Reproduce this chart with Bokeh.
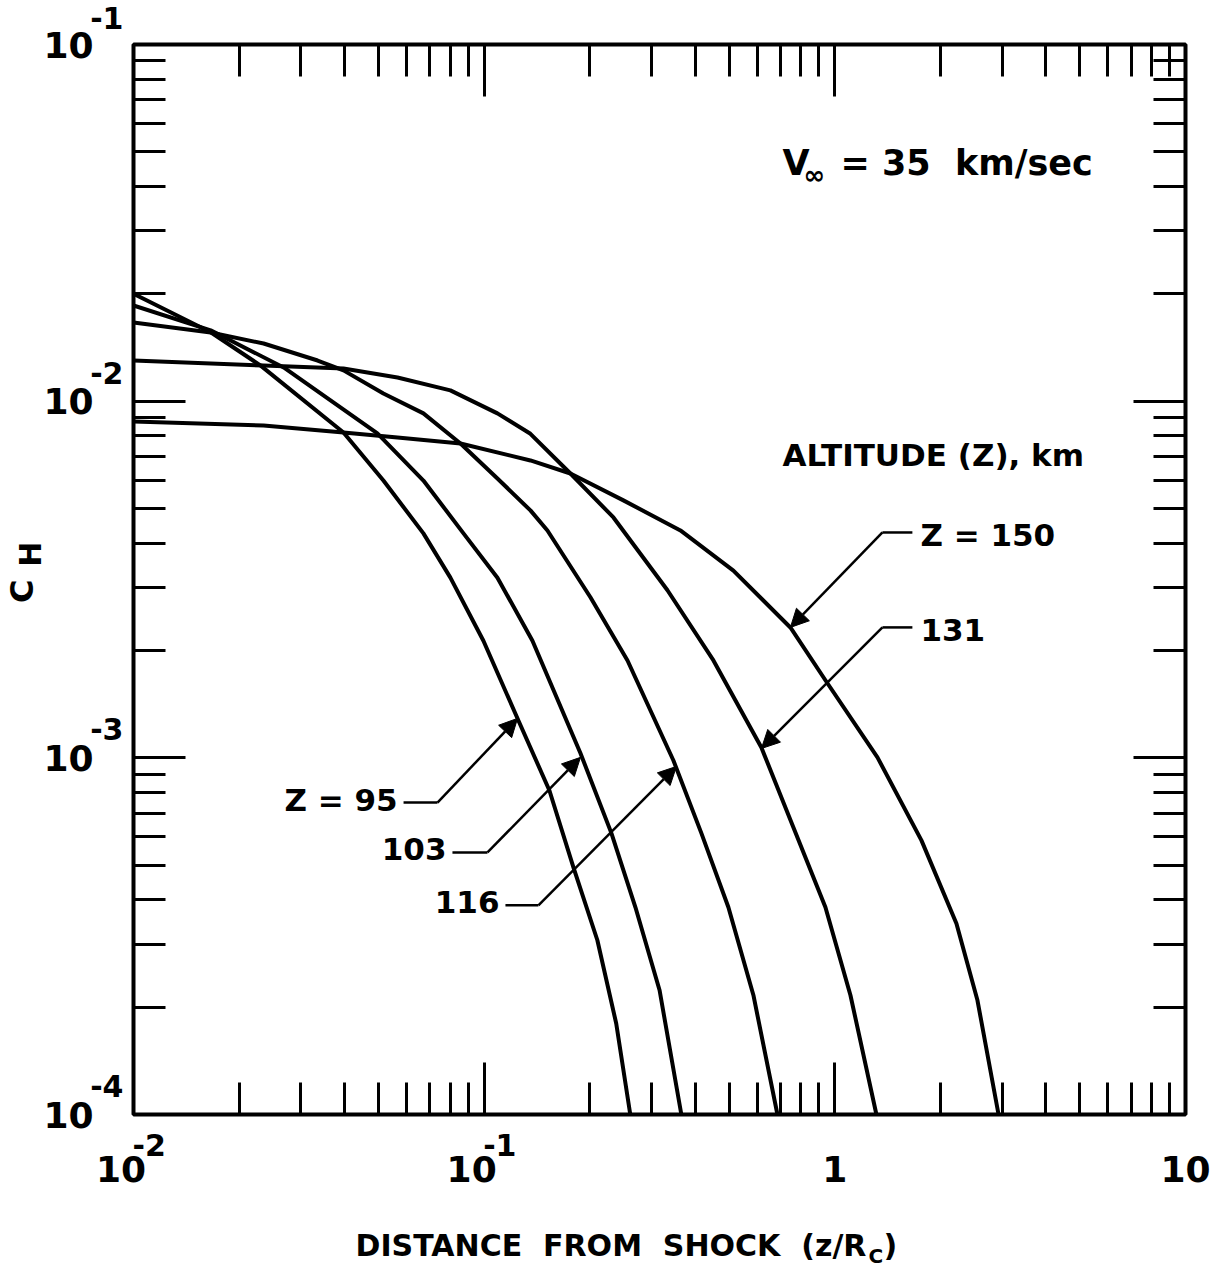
from bokeh.plotting import figure
from bokeh.models import Range1d, LogAxis, FixedTicker, Label, Arrow, NormalHead
from bokeh.embed import file_html
from bokeh.resources import INLINE

# Heat-transfer coefficient C_H against distance from the shock (z/Rc), V = 35 km/s,
# one curve per altitude Z (km).
dist_95 = [0.0100, 0.0166, 0.0230, 0.0397, 0.0516, 0.0671, 0.0801, 0.0995, 0.1253, 0.1535, 0.1797, 0.2103, 0.238, 0.261]
ch_95 = [0.0200, 0.0156, 0.0126, 0.00817, 0.00599, 0.00426, 0.00320, 0.00213, 0.00127, 0.00081, 0.000493, 0.000308, 0.000180, 0.0001]

dist_103 = [0.0100, 0.0166, 0.0268, 0.0496, 0.0671, 0.0873, 0.1091, 0.1373, 0.1882, 0.2307, 0.2700, 0.3164, 0.365]
ch_103 = [0.01855, 0.0158, 0.01243, 0.00812, 0.00599, 0.00426, 0.00320, 0.00213, 0.00103, 0.000614, 0.000381, 0.000223, 0.0001]

dist_116 = [0.0100, 0.0166, 0.0235, 0.0335, 0.0397, 0.0516, 0.0671, 0.0856, 0.1091, 0.1355, 0.1515, 0.2009, 0.2563, 0.3465, 0.4165, 0.4971, 0.5859, 0.686]
ch_116 = [0.01662, 0.01558, 0.01451, 0.0130, 0.0122, 0.01051, 0.00924, 0.00761, 0.00607, 0.00494, 0.00434, 0.00282, 0.001875, 0.000983, 0.000614, 0.000381, 0.000216, 0.0001]

dist_131 = [0.0100, 0.0235, 0.0397, 0.0566, 0.0801, 0.1091, 0.1355, 0.1762, 0.2337, 0.3332, 0.4506, 0.6174, 0.762, 0.9401, 1.108, 1.314]
ch_131 = [0.0130, 0.01259, 0.01235, 0.01165, 0.01072, 0.00924, 0.00810, 0.00627, 0.00472, 0.00295, 0.001875, 0.001069, 0.000638, 0.000381, 0.000216, 0.0001]

dist_150 = [0.0100, 0.0235, 0.0397, 0.0566, 0.0856, 0.1355, 0.1762, 0.2495, 0.3628, 0.5137, 0.7469, 0.9401, 1.323, 1.766, 2.222, 2.551, 2.93]
ch_150 = [0.00877, 0.00855, 0.00817, 0.00791, 0.00761, 0.00682, 0.00627, 0.00527, 0.00434, 0.00335, 0.00232, 0.00165, 0.001003, 0.000587, 0.000343, 0.000209, 0.0001]

curves = [(dist_95, ch_95), (dist_103, ch_103), (dist_116, ch_116), (dist_131, ch_131), (dist_150, ch_150)]

x_decades = [0.01, 0.1, 1.0, 10.0]
y_decades = [1e-4, 1e-3, 1e-2, 1e-1]
x_minor = [m * d for d in x_decades[:-1] for m in range(2, 10)]
y_minor = [m * d for d in y_decades[:-1] for m in range(2, 10)]

# tick labels are written as a base with a raised exponent
NB = "\u00a0"
x_base = {0.01: "10" + NB * 2, 0.1: "10" + NB * 2, 1.0: "1", 10.0: "10"}
x_exp = {0.01: NB * 3 + "-2", 0.1: NB * 3 + "-1", 1.0: NB, 10.0: NB}
y_base = {1e-1: "10", 1e-2: "10", 1e-3: "10", 1e-4: "10"}
y_exp = {1e-1: "-1\n" + NB, 1e-2: "-2\n" + NB, 1e-3: "-3\n" + NB, 1e-4: "-4\n" + NB}

# leader arrows: label, text side, text anchor (x, y), elbow (x, y), tip on the curve (x, y)
callouts = [
    ("Z = 95", "right", (0.0589, 0.000749), (0.0736, 0.000749), (0.1245, 0.00129)),
    ("103", "right", (0.0812, 0.000543), (0.1022, 0.000543), (0.1882, 0.001003)),
    ("116", "right", (0.1150, 0.000386), (0.1428, 0.000386), (0.3534, 0.000946)),
    ("Z = 150", "left", (1.664, 0.004284), (1.367, 0.004284), (0.7469, 0.002321)),
    ("131", "left", (1.664, 0.002321), (1.367, 0.002321), (0.6174, 0.001062)),
]

FONT = "DejaVu Sans"
INK = "black"

p = figure(width=1219, height=1268, x_axis_type="log", y_axis_type="log",
           x_range=Range1d(0.01, 10.0), y_range=Range1d(1e-4, 1e-1),
           output_backend="svg", toolbar_location=None,
           min_border_left=133, min_border_right=34, min_border_top=44, min_border_bottom=154)
p.background_fill_color = "white"
p.border_fill_color = "white"
p.outline_line_color = INK
p.outline_line_width = 4
p.grid.visible = False


def style(ax, ticker, ticks_on=True):
    ax.ticker = ticker
    ax.axis_line_color = None
    ax.major_tick_out = 0
    ax.minor_tick_out = 0
    ax.major_tick_in = 52 if ticks_on else 0
    ax.minor_tick_in = 32 if ticks_on else 0
    ax.major_tick_line_width = 3
    ax.minor_tick_line_width = 3
    ax.major_tick_line_color = INK if ticks_on else None
    ax.minor_tick_line_color = INK if ticks_on else None
    ax.major_label_text_font = FONT
    ax.major_label_text_font_style = "bold"
    ax.major_label_text_color = INK


x_ticker = FixedTicker(ticks=x_decades, minor_ticks=x_minor)
y_ticker = FixedTicker(ticks=y_decades, minor_ticks=y_minor)

# frame ticks on all four sides; bottom and left carry the exponents next to the frame
bottom = p.below[0]
left = p.left[0]
top = LogAxis()
right = LogAxis()
p.add_layout(top, "above")
p.add_layout(right, "right")
for ax in (bottom, top):
    style(ax, x_ticker)
for ax in (left, right):
    style(ax, y_ticker)
for ax in (top, right):
    ax.major_label_text_font_size = "2px"
    ax.major_label_text_alpha = 0
    ax.major_label_standoff = 0

bottom.major_label_overrides = x_exp
bottom.major_label_text_font_size = "30px"
bottom.major_label_standoff = 13
left.major_label_overrides = y_exp
left.major_label_text_font_size = "30px"
left.major_label_text_line_height = 1.6
left.major_label_standoff = 10

# second ring of axes holding the bases of the tick labels
bottom_base = LogAxis()
style(bottom_base, FixedTicker(ticks=x_decades, minor_ticks=[]), ticks_on=False)
bottom_base.major_label_overrides = x_base
bottom_base.major_label_text_font_size = "36px"
bottom_base.major_label_standoff = -17
p.add_layout(bottom_base, "below")

left_base = LogAxis()
style(left_base, FixedTicker(ticks=y_decades, minor_ticks=[]), ticks_on=False)
left_base.major_label_overrides = y_base
left_base.major_label_text_font_size = "36px"
left_base.major_label_standoff = -6
p.add_layout(left_base, "left")

for xs, ys in curves:
    p.line(xs, ys, line_color=INK, line_width=4, line_join="round", line_cap="round")


def text(x, y, s, size, align="left", dx=0, dy=0, angle=0, place="center"):
    lbl = Label(x=x, y=y, text=s, text_font=FONT, text_font_size=f"{size}px",
                text_font_style="bold", text_color=INK, text_align=align,
                text_baseline="middle", x_offset=dx, y_offset=dy,
                angle=angle, angle_units="deg")
    p.add_layout(lbl, place)


# axis titles (outside the frame, so they sit in the side panels)
text(0.01, 1e-4, "DISTANCE\u00a0\u00a0FROM\u00a0\u00a0SHOCK\u00a0\u00a0(z/R", 30, dx=222, dy=-131, place="below")
text(0.01, 1e-4, "C", 20, dx=735, dy=-141, place="below")
text(0.01, 1e-4, ")", 30, dx=750, dy=-131, place="right")
text(0.01, 0.00293, "C", 32, align="center", dx=-112, angle=90, place="left")
text(0.01, 0.00293, "H", 30, align="center", dx=-103, dy=37, angle=90, place="above")

# free-stream velocity note and legend heading
text(0.7088, 0.0464, "V", 35)
text(0.7088, 0.0464, "\u221e", 26, dx=21, dy=-12)
text(0.7088, 0.0464, "=\u00a035\u00a0\u00a0km/sec", 35, dx=58)
text(0.7088, 0.007045, "ALTITUDE (Z), km", 31)

# call-outs naming each curve
for label, side, (tx, ty), (ex, ey), (hx, hy) in callouts:
    p.line([tx, ex], [ty, ey], line_color=INK, line_width=2.5)
    p.add_layout(Arrow(x_start=ex, y_start=ey, x_end=hx, y_end=hy, line_color=INK, line_width=2.5,
                       end=NormalHead(size=18, fill_color=INK, line_color=INK)))
    if side == "right":
        text(tx, ty, label, 31, align="right", dx=-6, dy=3)
    else:
        text(tx, ty, label, 31, align="left", dx=8, dy=-3)

open("out.html", "w").write(file_html(p, INLINE))
